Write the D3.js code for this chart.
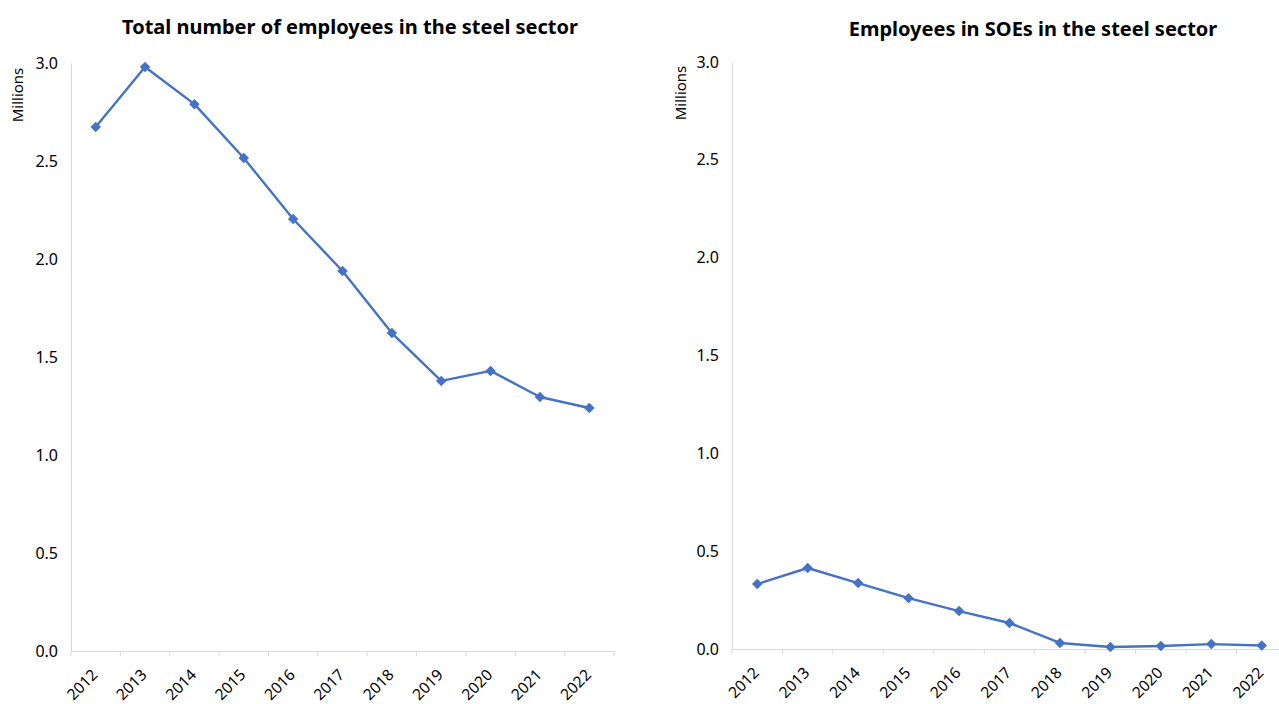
<!DOCTYPE html>
<html lang="en">
<head>
<meta charset="utf-8">
<title>Steel sector employees</title>
<script src="https://cdn.jsdelivr.net/npm/d3@7"></script>
<style>
  body { margin: 0; background: #fff; }
  text { font-family: "Segoe UI", "Noto Sans", "Open Sans", sans-serif; fill: #000; }
</style>
</head>
<body>
<script>
// data
var years = ["2012","2013","2014","2015","2016","2017","2018","2019","2020","2021","2022"];
var totalEmployees = [2.673, 2.98, 2.79, 2.515, 2.204, 1.939, 1.622, 1.378, 1.429, 1.296, 1.24];
var soeEmployees = [0.332, 0.414, 0.337, 0.26, 0.194, 0.133, 0.031, 0.01, 0.015, 0.025, 0.018];
var yTicks = [0, 0.5, 1.0, 1.5, 2.0, 2.5, 3.0];

var w = 1279, h = 704;
var svg = d3.select("body").append("svg").attr("width", w).attr("height", h);

var panels = [
  { title: "Total number of employees in the steel sector", values: totalEmployees,
    left: 71, right: 614, top: 63, bottom: 651, titleX: 350, titleY: 27, unitX: 18, unitY: 95 },
  { title: "Employees in SOEs in the steel sector", values: soeEmployees,
    left: 732, right: 1287, top: 62, bottom: 649, titleX: 1033, titleY: 29, unitX: 681, unitY: 93 }
];

panels.forEach(function(p) {
  var g = svg.append("g");

  var x = d3.scaleBand().domain(years).range([p.left, p.right]);
  var y = d3.scaleLinear().domain([0, 3]).range([p.bottom, p.top]);

  // title
  g.append("text")
    .attr("x", p.titleX).attr("y", p.titleY)
    .attr("text-anchor", "middle")
    .attr("dy", "0.35em")
    .style("font-size", "20px").style("font-weight", "bold")
    .text(p.title);

  // unit label
  g.append("text")
    .attr("transform", "translate(" + p.unitX + "," + p.unitY + ") rotate(-90)")
    .attr("text-anchor", "middle")
    .attr("dy", "0.35em")
    .style("font-size", "15px")
    .text("Millions");

  // y axis
  var yAxis = g.append("g")
    .attr("transform", "translate(" + p.left + ",0)")
    .call(d3.axisLeft(y).tickValues(yTicks).tickSize(0).tickPadding(13)
      .tickFormat(d3.format(".1f")));
  yAxis.select(".domain").attr("stroke", "#d9d9d9");
  yAxis.selectAll("text").style("font-size", "16px");

  // x axis
  var xAxis = g.append("g")
    .attr("transform", "translate(0," + p.bottom + ")")
    .call(d3.axisBottom(x).tickSize(0).tickFormat(function(d) { return d; }));
  xAxis.select(".domain").attr("stroke", "#d9d9d9");
  xAxis.selectAll(".tick text")
    .style("font-size", "15.5px")
    .attr("text-anchor", "end")
    .attr("dy", "0.35em")
    .attr("transform", "translate(-1,21) rotate(-45)")
    .attr("y", 0).attr("x", 0);

  // boundary tick marks
  g.append("g").selectAll("line")
    .data(years.concat(["end"]))
    .join("line")
    .attr("x1", function(d, i) { return p.left + i * x.bandwidth(); })
    .attr("x2", function(d, i) { return p.left + i * x.bandwidth(); })
    .attr("y1", p.bottom).attr("y2", p.bottom + 5)
    .attr("stroke", "#d9d9d9");

  // line
  var line = d3.line()
    .x(function(d, i) { return x(years[i]) + x.bandwidth() / 2; })
    .y(function(d) { return y(d); });

  g.append("path")
    .datum(p.values)
    .attr("d", line)
    .attr("fill", "none")
    .attr("stroke", "#4472c4")
    .attr("stroke-width", 2.4)
    .attr("stroke-linejoin", "round");

  g.selectAll(".pt")
    .data(p.values)
    .join("path")
    .attr("class", "pt")
    .attr("d", d3.symbol(d3.symbolDiamond2, 70)())
    .attr("transform", function(d, i) {
      return "translate(" + (x(years[i]) + x.bandwidth() / 2) + "," + y(d) + ")";
    })
    .attr("fill", "#4472c4");
});
</script>
</body>
</html>
